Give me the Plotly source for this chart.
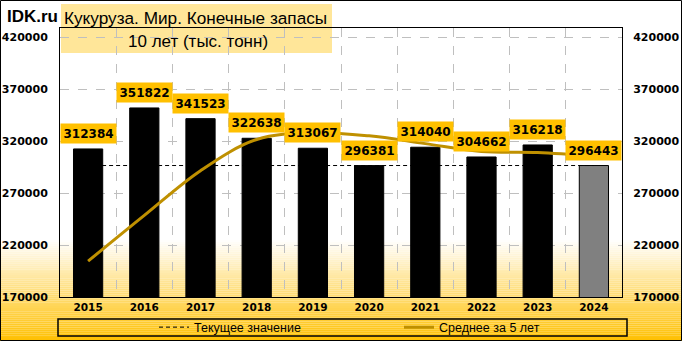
import plotly.graph_objects as go

years = ["2015", "2016", "2017", "2018", "2019", "2020", "2021", "2022", "2023", "2024"]
stocks = [312384, 351822, 341523, 322638, 313067, 296381, 314040, 304662, 316218, 296443]
avg5 = [204500, 248500, 291500, 321500, 328000, 325000, 317500, 310000, 309000, 305500]
current_value = 296443
y_ticks = [170000, 220000, 270000, 320000, 370000, 420000]
title_line1 = "Кукуруза. Мир. Конечные запасы"
title_line2 = "10 лет (тыс. тонн)"
legend_current = "Текущее значение"
legend_avg = "Среднее за 5 лет"

W, H = 682, 341
ML, MR, MT, MB = 60, 60, 28, 44
PW, PH = W - ML - MR, H - MT - MB


def px2x(px):
    return (px - ML) / PW


def px2y(py):
    return 1 - (py - MT) / PH


bar_colors = ["#000000"] * (len(years) - 1) + ["#808080"]

fig = go.Figure()
fig.add_trace(go.Bar(
    x=years, y=stocks, marker=dict(color=bar_colors, line=dict(color="#000000", width=1)),
    showlegend=False, hoverinfo="skip"))
fig.add_trace(go.Scatter(
    x=years, y=[current_value] * len(years), mode="lines", name=legend_current,
    line=dict(color="#000000", width=1, dash="4px,3px")))
fig.add_trace(go.Scatter(
    x=years, y=avg5, mode="lines", name=legend_avg,
    line=dict(color="#BF9000", width=3, shape="spline", smoothing=1.0)))
fig.add_trace(go.Scatter(x=[years[0]], y=[None], yaxis="y2", showlegend=False, hoverinfo="skip"))

shapes = []
# background gradient (white -> gold) at bottom of the chart
g_top, g_bot, n = 240, 341, 52
for i in range(n):
    t0 = g_top + (g_bot - g_top) * i / n
    t1 = g_top + (g_bot - g_top) * (i + 1) / n
    t = (i + 0.5) / n
    r, g, b = 255, int(255 + (192 - 255) * t), int(255 + (0 - 255) * t)
    shapes.append(dict(type="rect", xref="paper", yref="paper", x0=px2x(0), x1=px2x(W),
                       y0=px2y(t1), y1=px2y(t0), line=dict(width=0),
                       fillcolor=f"rgb({r},{g},{b})", layer="below"))
# title box
shapes.append(dict(type="rect", xref="paper", yref="paper", x0=px2x(61), x1=px2x(332),
                   y0=px2y(53), y1=px2y(4), line=dict(width=0), fillcolor="#FFE699", layer="below"))
# legend box
shapes.append(dict(type="rect", xref="paper", yref="paper", x0=px2x(58), x1=px2x(627),
                   y0=px2y(336), y1=px2y(319), line=dict(color="#000000", width=1.5),
                   fillcolor="rgba(0,0,0,0)", layer="above"))
# outer border
shapes.append(dict(type="rect", xref="paper", yref="paper", x0=px2x(0.5), x1=px2x(W - 0.5),
                   y0=px2y(H - 0.5), y1=px2y(0.5), line=dict(color="#000000", width=1),
                   fillcolor="rgba(0,0,0,0)", layer="above"))

annotations = []
for i, v in enumerate(stocks):
    annotations.append(dict(
        x=i, y=v, xref="x", yref="y", text=f"{v}", showarrow=False, yanchor="bottom", yshift=5,
        bgcolor="#FFC000", borderpad=2.5,
        font=dict(family="DejaVu Sans", size=12, color="#000000", weight="bold")))
annotations.append(dict(x=px2x(5), y=px2y(17), xref="paper", yref="paper", text="IDK.ru",
                        showarrow=False, xanchor="left", yanchor="middle",
                        font=dict(family="Liberation Sans", size=17, color="#000000", weight="bold")))
annotations.append(dict(x=px2x(62), y=px2y(18), xref="paper", yref="paper", text=title_line1,
                        showarrow=False, xanchor="left", yanchor="middle",
                        font=dict(family="Liberation Sans", size=17.2, color="#000000")))
annotations.append(dict(x=px2x(198), y=px2y(41), xref="paper", yref="paper", text=title_line2,
                        showarrow=False, xanchor="center", yanchor="middle",
                        font=dict(family="Liberation Sans", size=17, color="#000000")))

axis_font = dict(family="DejaVu Sans", size=11, color="#000000", weight="bold")
yrange = [170000, 428700]

fig.update_layout(
    width=W, height=H, margin=dict(l=ML, r=MR, t=MT, b=MB, autoexpand=False),
    paper_bgcolor="#FFFFFF", plot_bgcolor="rgba(0,0,0,0)",
    bargap=0.48,
    shapes=shapes, annotations=annotations,
    xaxis=dict(type="category", range=[-0.5, len(years) - 0.5], autorange=False, automargin=False,
               tickson="boundaries", showgrid=True, gridcolor="#BFBFBF",
               griddash="dash", gridwidth=1, showline=True, linecolor="#000000", linewidth=1,
               mirror=True, ticks="outside", ticklen=8, tickcolor="rgba(0,0,0,0)",
               tickfont=dict(family="DejaVu Sans", size=10.5, color="#000000", weight="bold")),
    yaxis=dict(range=yrange, autorange=False, automargin=False, tickvals=y_ticks,
               ticktext=[str(v) for v in y_ticks],
               showgrid=True, gridcolor="#BFBFBF", griddash="dash", gridwidth=1,
               showline=True, linecolor="#000000", linewidth=1, mirror=True,
               ticks="outside", ticklen=9, tickcolor="rgba(0,0,0,0)", tickfont=axis_font,
               zeroline=False),
    yaxis2=dict(range=yrange, autorange=False, automargin=False, overlaying="y", side="right",
                tickvals=y_ticks, ticktext=[str(v) for v in y_ticks], showgrid=False,
                zeroline=False, ticks="outside", ticklen=8, tickcolor="rgba(0,0,0,0)",
                tickfont=axis_font),
    legend=dict(orientation="h", x=px2x(154), y=px2y(327.5), xanchor="left", yanchor="middle",
                bgcolor="rgba(0,0,0,0)", borderwidth=0, entrywidth=200, entrywidthmode="pixels",
                font=dict(family="Liberation Sans", size=12.5, color="#000000")),
    showlegend=True,
)

fig.write_html("out.html")
